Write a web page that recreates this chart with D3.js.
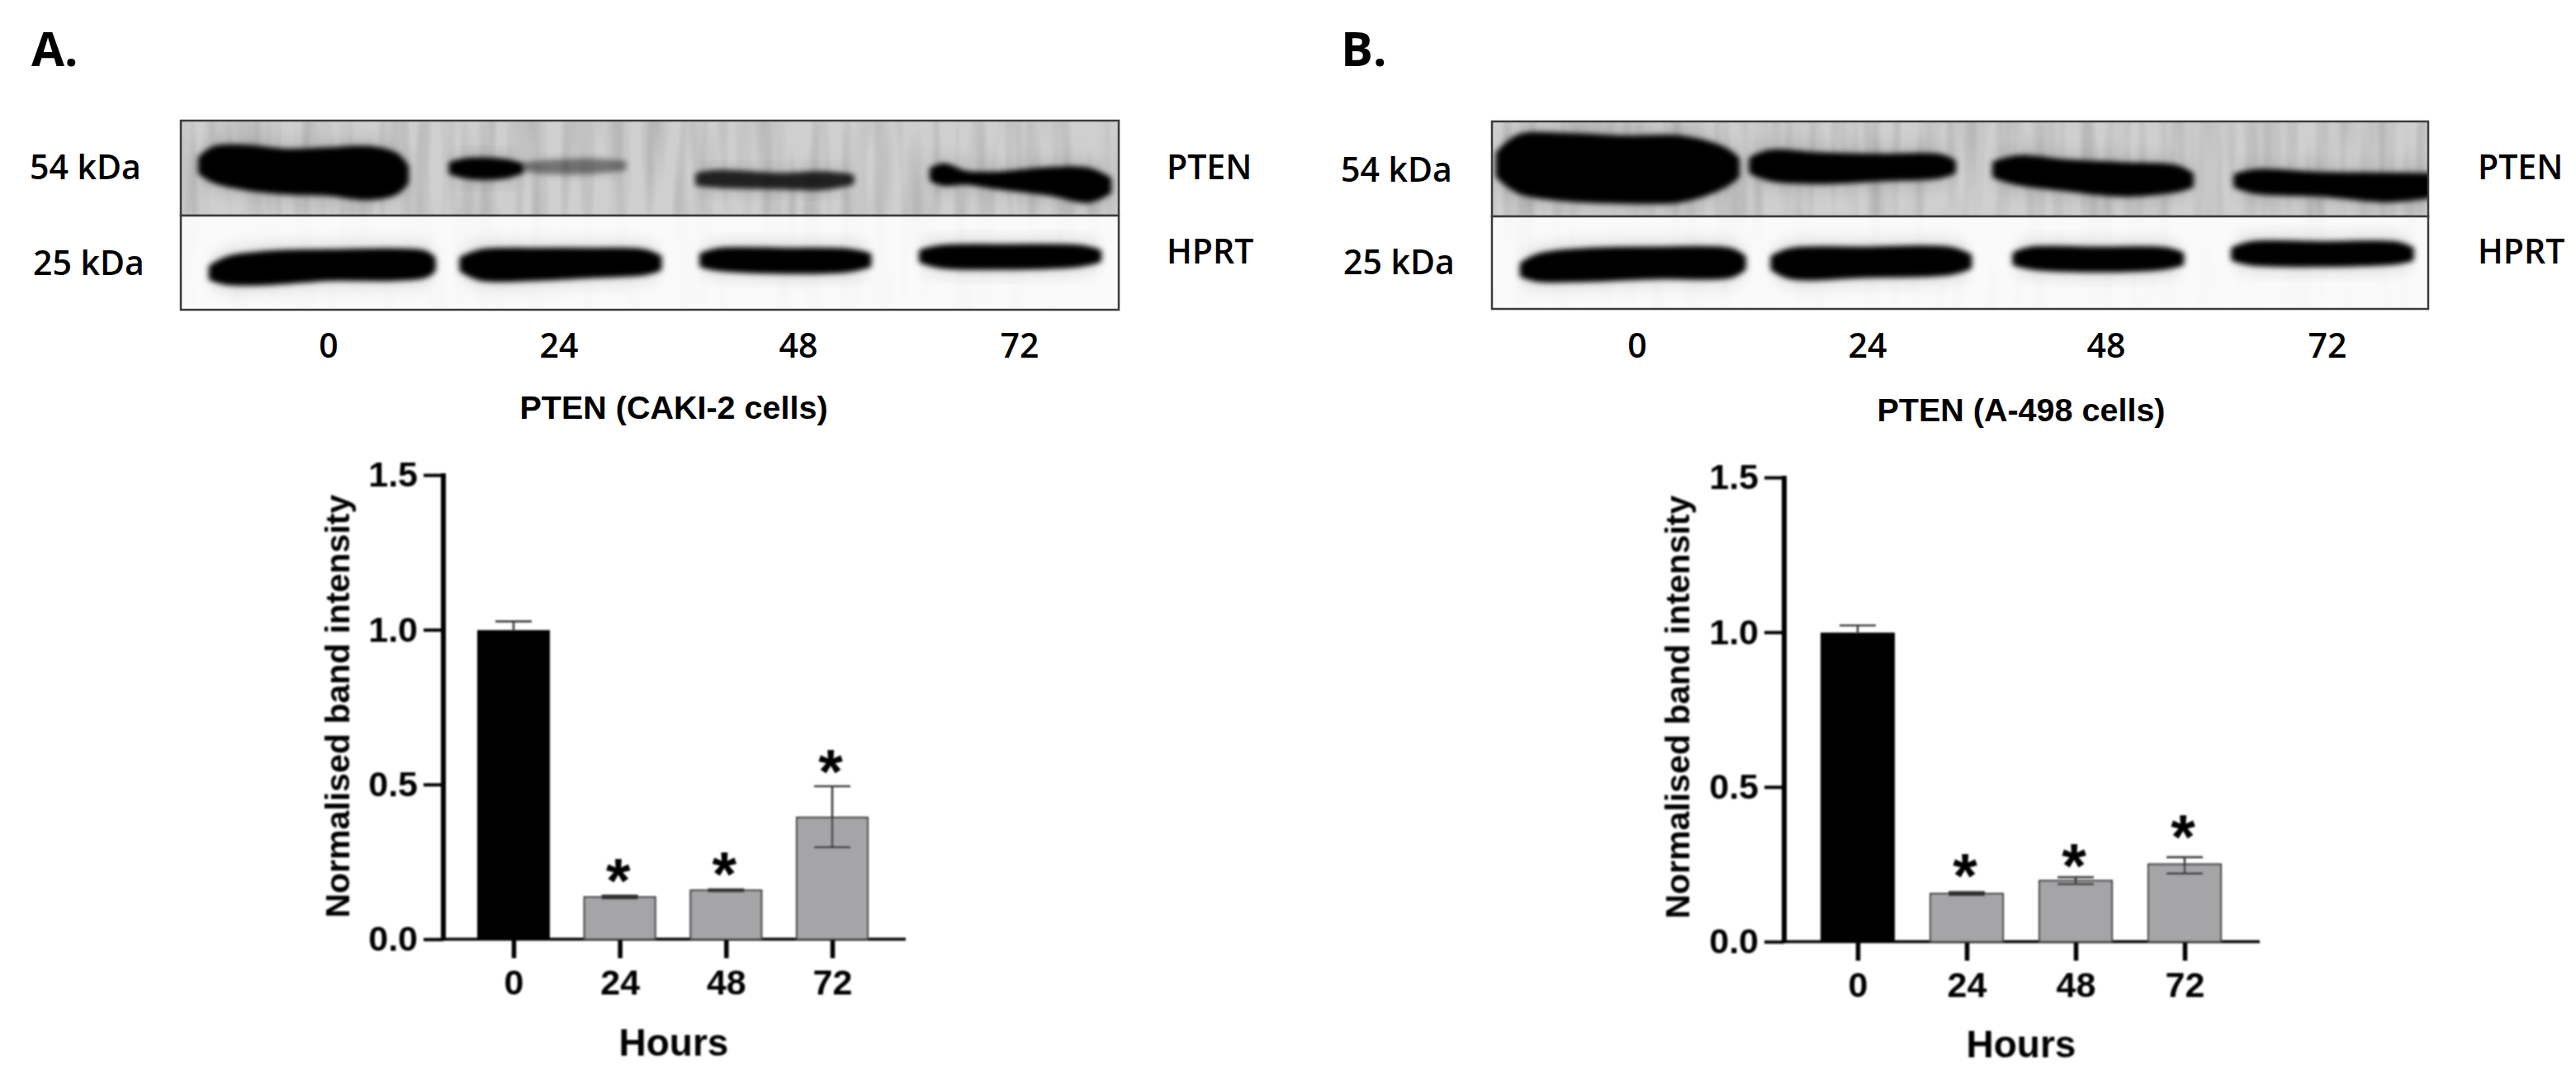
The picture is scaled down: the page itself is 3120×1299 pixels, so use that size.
<!DOCTYPE html>
<html><head><meta charset="utf-8">
<script src="https://cdnjs.cloudflare.com/ajax/libs/d3/7.8.5/d3.min.js"></script>
<style>html,body{margin:0;background:#fff}svg{display:block}
.hd{font-family:"Open Sans",sans-serif;font-weight:700;font-size:58px}
.gl{font-family:"Open Sans",sans-serif;font-weight:600;font-size:41px}
.ar{font-family:"Liberation Sans",Arial,sans-serif;font-weight:700}
</style></head><body><svg id="c" width="3120" height="1299"></svg>
<script>
// ---- chart values
const hours = ["0","24","48","72"];
const yTicks = [0,0.5,1.0,1.5];
const cakiMean = [0.996,0.136,0.158,0.393];
const cakiHigh = [1.027,0.141,0.161,0.494];
const cakiLow  = [0.973,0.131,0.155,0.297];
const cakiStar = [null,0.238,0.258,0.59];
const a498Mean = [0.996,0.155,0.197,0.25];
const a498High = [1.022,0.16,0.208,0.273];
const a498Low  = [0.978,0.15,0.186,0.22];
const a498Star = [null,0.262,0.295,0.388];
// ---- gel band outlines, read as [x, top, bottom] in gel reading units; o is darkness
const cakiPten = [
 {o:1,p:[[245,565,615],[262,530,645],[300,525,670],[350,540,685],[400,535,690],[450,530,705],[483,555,685],[495,595,650]]},
 {o:1,p:[[550,585,615],[572,572,630],[612,575,630],[635,590,612]]},
 {o:.42,p:[[640,587,603],[665,580,612],[720,575,612],[760,582,600]]},
 {o:.82,p:[[850,625,655],[875,615,662],[950,626,667],[1000,620,670],[1037,630,652]]},
 {o:1,p:[[1135,605,640],[1150,592,655],[1175,618,650],[1210,622,665],[1280,605,690],[1325,608,715],[1350,640,685]]}];
const cakiHprt = [
 {o:1,p:[[258,955,995],[278,925,1010],[330,905,1010],[400,900,995],[480,897,995],[518,905,985],[528,925,965]]},
 {o:1,p:[[563,925,965],[586,900,995],[650,895,995],[720,895,985],[785,900,975],[803,920,960]]},
 {o:1,p:[[855,912,948],[876,895,960],[960,895,970],[1030,897,965],[1058,912,948]]},
 {o:1,p:[[1122,900,932],[1146,885,950],[1230,882,955],[1315,885,945],[1338,900,930]]}];
const a498Pten = [
 {o:1,p:[[222,545,625],[248,485,680],[300,480,705],[380,490,715],[450,490,710],[503,530,660],[520,565,625]]},
 {o:1,p:[[538,565,610],[562,540,635],[620,550,645],[700,555,635],[772,555,625],[790,575,610]]},
 {o:1,p:[[842,580,625],[872,560,650],[930,575,670],[1000,585,690],[1068,595,675],[1087,620,660]]},
 {o:1,p:[[1143,625,660],[1167,610,680],[1250,620,690],[1330,622,710],[1400,625,690]]}];
const a498Hprt = [
 {o:1,p:[[252,945,985],[272,915,1000],[330,895,1000],[420,890,990],[512,895,985],[528,920,960]]},
 {o:1,p:[[565,920,960],[587,895,990],[680,890,985],[785,890,975],[810,915,955]]},
 {o:1,p:[[867,908,942],[887,890,955],[970,890,965],[1055,892,955],[1075,908,942]]},
 {o:1,p:[[1140,890,925],[1162,870,940],[1250,870,945],[1345,872,935],[1362,890,925]]}];
const gelLabels = ["PTEN","HPRT"];
const kda = ["54 kDa","25 kDa"];

const svg = d3.select("#c");
const defs = svg.append("defs");
function blur(id,sx,sy){defs.append("filter").attr("id",id).attr("x","-30%").attr("y","-80%").attr("width","160%").attr("height","260%")
  .append("feGaussianBlur").attr("stdDeviation",sx+" "+sy);}
blur("core",3.5,3.2); blur("halo",7,14);
const soft = defs.append("filter").attr("id","soft").attr("x","-2%").attr("y","-2%").attr("width","104%").attr("height","104%");
soft.append("feGaussianBlur").attr("stdDeviation",0.8);
const st = defs.append("filter").attr("id","streak").attr("x",0).attr("y",0).attr("width","100%").attr("height","100%");
st.append("feTurbulence").attr("type","fractalNoise").attr("baseFrequency","0.05 0.005").attr("numOctaves",2).attr("seed",4);
st.append("feColorMatrix").attr("type","matrix").attr("values","0 0 0 0 0  0 0 0 0 0  0 0 0 0 0  1.1 0 0 0 -0.42");

function gel(id,g,x0,x1,yT,yB,dom,bands,bg,streak){
  const sx=d3.scaleLinear().domain(dom.x).range([x0,x1]);
  const sy=d3.scaleLinear().domain(dom.y).range([yT,yB]);
  defs.append("clipPath").attr("id",id).append("rect").attr("x",x0).attr("y",yT).attr("width",x1-x0).attr("height",yB-yT);
  const p=g.append("g").attr("clip-path",`url(#${id})`);
  p.append("rect").attr("x",x0).attr("y",yT).attr("width",x1-x0).attr("height",yB-yT).attr("fill",bg);
  p.append("rect").attr("x",x0).attr("y",yT).attr("width",x1-x0).attr("height",yB-yT).attr("fill","#000").attr("opacity",streak).attr("filter","url(#streak)");
  const area=d3.area().x(d=>sx(d[0])).y0(d=>sy(d[1])).y1(d=>sy(d[2])).curve(d3.curveCatmullRom);
  p.selectAll(".h").data(bands).join("path").attr("d",d=>area(d.p)).attr("fill","#000").attr("opacity",d=>d.o*.26).attr("filter","url(#halo)");
  p.selectAll(".b").data(bands).join("path").attr("d",d=>area(d.p)).attr("fill","#000").attr("stroke","#000").attr("stroke-width",6).attr("stroke-linejoin","round").attr("opacity",d=>d.o).attr("filter","url(#core)");
  g.append("rect").attr("x",x0).attr("y",yT).attr("width",x1-x0).attr("height",yB-yT).attr("fill","none").attr("stroke","#3c3c3c").attr("stroke-width",2.5);
}
function text(g,cls,t,x,y,a){return g.append("text").attr("class",cls).attr("x",x).attr("y",y).attr("text-anchor",a||"start").attr("fill","#000").text(t);}

function panel(c){
  const g=svg.append("g");
  text(g,"hd",c.tag,c.tagX,80);
  gel(c.id+"t",g,c.gx[0],c.gx[1],c.gy[0],c.gy[1],{x:c.dom,y:[430,770]},c.pten,"#cfcfcf",.26);
  gel(c.id+"b",g,c.gx[0],c.gx[1],c.gy[1],c.gy[2],{x:c.dom,y:[770,1108]},c.hprt,"#fafafa",.03);
  kda.forEach((k,i)=>text(g,"gl",k,c.kdaX[i],c.kdaY[i]));
  gelLabels.forEach((k,i)=>text(g,"gl",k,c.lblX,[217,319][i]));
  hours.forEach((h,i)=>text(g,"gl",h,c.laneX[i],433,"middle"));
  text(g,"ar",c.title,c.titleX,c.titleY,"middle").style("font-size","39.5px");

  const ch=g.append("g").attr("filter","url(#soft)");
  const y=d3.scaleLinear().domain([0,1.5]).range([c.y0,c.y1]);
  const x=d3.scalePoint().domain(hours).range(c.xr);
  const ya=ch.append("g").attr("transform",`translate(${c.ax},0)`).call(d3.axisLeft(y).tickValues(yTicks).tickFormat(d3.format(".1f")).tickSize(c.yTick).tickPadding(7));
  ya.select(".domain").attr("stroke","#000").attr("stroke-width",6).attr("d",`M0,${c.y0+1.5}V${c.y1-2}`);
  ya.selectAll(".tick line").attr("stroke","#000").attr("stroke-width",4);
  ya.selectAll("text").attr("class","ar").attr("fill","#000").style("font-size","43px");
  ya.attr("font-family",null).attr("font-size",null);
  const xa=ch.append("g").attr("transform",`translate(0,${c.y0})`).call(d3.axisBottom(x).tickSize(23).tickPadding(13));
  xa.select(".domain").attr("stroke","#000").attr("stroke-width",3.5).attr("d",`M${c.ax},0H${c.axEnd}`);
  xa.selectAll(".tick line").attr("stroke","#000").attr("stroke-width",5.5);
  xa.selectAll("text").attr("class","ar").attr("fill","#000").style("font-size","43px");
  xa.attr("font-family",null).attr("font-size",null);
  const w=c.barW;
  ch.selectAll(".bar").data(hours).join("rect").attr("x",d=>x(d)-w/2).attr("width",w)
    .attr("y",(d,i)=>y(c.mean[i])).attr("height",(d,i)=>c.y0-y(c.mean[i]))
    .attr("fill",(d,i)=>i?"#a5a5a8":"#000").attr("stroke",(d,i)=>i?"#333":"#000").attr("stroke-width",2);
  const eb=ch.selectAll(".eb").data(hours).join("g").attr("stroke","#333").attr("stroke-width",2.4).attr("fill","none");
  eb.append("path").attr("d",(d,i)=>`M${x(d)},${y(c.high[i])}V${y(i?c.low[i]:c.mean[i])}`);
  eb.append("path").attr("d",(d,i)=>`M${x(d)-22},${y(c.high[i])}h44`);
  eb.filter((d,i)=>i>0).append("path").attr("d",d=>{const i=hours.indexOf(d);return `M${x(d)-22},${y(c.low[i])}h44`;});
  ch.selectAll(".st").data(hours.filter((d,i)=>c.star[i]!=null)).join("text").attr("class","ar")
    .attr("x",d=>x(d)-2).attr("y",d=>y(c.star[hours.indexOf(d)])).attr("dy","0.58em").attr("text-anchor","middle").style("font-size","76px").text("*");
  text(ch,"ar","Hours",c.titleX,c.hoursY,"middle").style("font-size","46px");
  text(ch,"ar","Normalised band intensity",0,0,"middle").style("font-size","41px")
    .attr("transform",`translate(${c.ylX},${c.ylY}) rotate(-90)`);
}
panel({id:"a",tag:"A.",tagX:38,gx:[219,1355],gy:[146,261,375],dom:[221,1362],pten:cakiPten,hprt:cakiHprt,
  kdaX:[36,40],kdaY:[217,333],lblX:1413,laneX:[398,677,967,1235],title:"PTEN (CAKI-2 cells)",titleX:816,titleY:507,
  y0:1137,y1:575,ax:537,axEnd:1097,yTick:24,xr:[622,1008],barW:86,mean:cakiMean,high:cakiHigh,low:cakiLow,star:cakiStar,hoursY:1278,ylX:423,ylY:855});
panel({id:"b",tag:"B.",tagX:1624,gx:[1807,2941],gy:[147,262,374],dom:[214,1383],pten:a498Pten,hprt:a498Hprt,
  kdaX:[1624,1627],kdaY:[220,332],lblX:3001,laneX:[1983,2262,2551,2819],title:"PTEN (A-498 cells)",titleX:2448,titleY:510,
  y0:1140,y1:578,ax:2161,axEnd:2737,yTick:24,xr:[2250,2646],barW:88,mean:a498Mean,high:a498High,low:a498Low,star:a498Star,hoursY:1280,ylX:2046,ylY:856});
</script></body></html>
